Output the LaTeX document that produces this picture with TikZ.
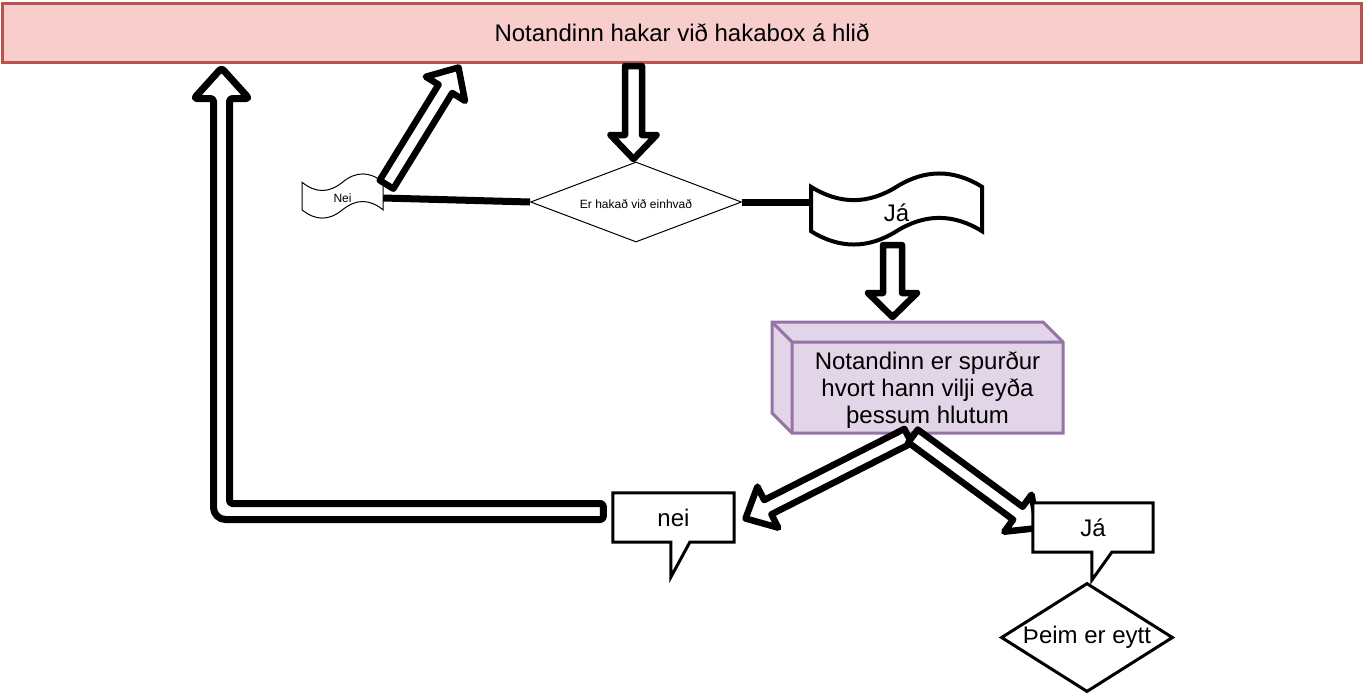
\documentclass[tikz,border=0pt]{standalone}
\usepackage{fontspec}
\setmainfont{Liberation Sans}
\usetikzlibrary{shapes.geometric,calc}
\definecolor{topfill}{HTML}{F8CECC}
\definecolor{topline}{HTML}{B85450}
\definecolor{cubefill}{HTML}{E1D5E7}
\definecolor{cubeline}{HTML}{9673A6}
\newcommand\hollowarrowdraw[5]{%
  \path (#1); \pgfgetlastxy{\hax}{\hay}%
  \path (#2); \pgfgetlastxy{\hbx}{\hby}%
  \pgfmathsetmacro\hang{atan2(\hby-\hay,\hbx-\hax)}%
  \pgfmathsetmacro\hlen{veclen(\hbx-\hax,\hby-\hay)}%
  \begin{scope}[shift={(\hax,\hay)},rotate=\hang]
    \draw[hollow] (0,#3) -- ({\hlen-#5},#3) -- ({\hlen-#5},#4) -- (\hlen,0) -- ({\hlen-#5},-#4) -- ({\hlen-#5},-#3) -- (0,-#3) -- cycle;
  \end{scope}}
\newcommand\tapepath[5]{%
  \pgfmathsetmacro\tdy{0.4*#5}%
  \draw[#1] ({#2},{#3+0.5*\tdy})
    .. controls ({#2+#4/6},{#3+1.1*\tdy}) and ({#2+#4/3},{#3+1.1*\tdy}) .. ({#2+#4/2},{#3+0.5*\tdy})
    .. controls ({#2+2*#4/3},{#3-0.1*\tdy}) and ({#2+5*#4/6},{#3-0.1*\tdy}) .. ({#2+#4},{#3+0.5*\tdy})
    -- ({#2+#4},{#3+#5-0.5*\tdy})
    .. controls ({#2+5*#4/6},{#3+#5-1.1*\tdy}) and ({#2+2*#4/3},{#3+#5-1.1*\tdy}) .. ({#2+#4/2},{#3+#5-0.5*\tdy})
    .. controls ({#2+#4/3},{#3+#5+0.1*\tdy}) and ({#2+#4/6},{#3+#5+0.1*\tdy}) .. ({#2},{#3+#5-0.5*\tdy})
    -- cycle;}
\tikzset{
  hollow/.style={draw=black,fill=white,line width=6.5pt,line join=round},
  bigfont/.style={font=\fontsize{24}{27}\selectfont},
  smallfont/.style={font=\fontsize{12}{14}\selectfont},
  topbox/.style={draw=topline,fill=topfill,line width=3pt,minimum width=1359pt,minimum height=59pt,inner sep=0pt,bigfont},
  thinbox/.style={draw=black,fill=white,line width=1pt},
  boldshape/.style={draw=black,fill=white,line width=4pt},
  label/.style={inner sep=0pt},
  thickline/.style={draw=black,line width=7pt},
  calloutline/.style={draw=black,line width=3pt,line join=miter},
  cube/.style={draw=cubeline,fill=cubefill,line width=3pt,line join=miter},
}
\begin{document}
\begin{tikzpicture}[x=1pt,y=-1pt]
\useasboundingbox (0,0) rectangle (1364,694);
\fill[white] (0,0) rectangle (1364,694);

% top box
\node[topbox] (top) at (682,32.5) {Notandinn hakar við hakabox á hlið};

% decision diamond
\node[diamond,shape aspect=2.64,draw=black,fill=white,line width=1pt,minimum width=211pt,minimum height=80pt,inner sep=0pt] (q1) at (636,202) {};
\node[label,smallfont] at (636,204) {Er hakað við einhvað};

% tapes
\tapepath{thinbox}{302}{173}{81}{46}
\node[label,smallfont,minimum width=81pt,minimum height=46pt] (neiT) at (342.5,198) {Nei};
\tapepath{boldshape}{811}{172}{171}{74}
\node[label,bigfont,minimum width=171pt,minimum height=74pt] (jaT) at (896.5,213) {Já};

% thick lines
\draw[thickline] (q1.west) -- (neiT.east);
\draw[thickline] (q1.east) -- (q1.east -| jaT.west);

% cube
\draw[cube] (772,322) -- (1043,322) -- (1063,342) -- (1063,433) -- (792,433) -- (772,413) -- cycle;
\draw[cube,fill=none] (772,322) -- (792,342) -- (1063,342) (792,342) -- (792,433);
\node[label,bigfont,align=center,minimum width=271pt,minimum height=91pt] (ask) at (927.5,390.5) {Notandinn er spurður\\hvort hann vilji eyða\\þessum hlutum};

% arrow end coordinates
\coordinate (a1s) at (633.5,66);
\coordinate (a1e) at (633.5,159);
\coordinate (a2s) at (386.5,184.5);
\coordinate (a2e) at (458.5,67.5);
\coordinate (a3s) at (892.5,245);
\coordinate (a3e) at (892.5,317);
\coordinate (a4s) at (908,436);
\coordinate (a4e) at (745.5,518.5);
\coordinate (a5s) at (913,436);
\coordinate (a5e) at (1038,528);

\hollowarrowdraw{a1s}{a1e}{8.5}{23}{24}
\hollowarrowdraw{a2s}{a2e}{8}{23}{25}
\hollowarrowdraw{a3s}{a3e}{9.5}{24.5}{24}
\hollowarrowdraw{a4s}{a4e}{8}{23}{25}
\hollowarrowdraw{a5s}{a5e}{8}{23}{25}

% callouts
\node[label,fill=white,bigfont,minimum width=121pt,minimum height=49pt] (neiC) at (673.5,517.5) {nei};
\draw[calloutline] (neiC.north west) -- (neiC.north east) -- (neiC.south east)
  -- ($(neiC.south west)+(77,0)$) -- ($(neiC.south west)+(58,35)$) -- ($(neiC.south west)+(58,0)$)
  -- (neiC.south west) -- cycle;
\node[label,fill=white,bigfont,minimum width=120pt,minimum height=49pt] (jaC) at (1093,527.5) {Já};
\draw[calloutline] (jaC.north west) -- (jaC.north east) -- (jaC.south east)
  -- ($(jaC.south west)+(79,0)$) -- ($(jaC.south west)+(59,28)$) -- ($(jaC.south west)+(59,0)$)
  -- (jaC.south west) -- cycle;

% final diamond
\node[diamond,shape aspect=1.58,draw=black,fill=white,line width=3pt,minimum width=172pt,minimum height=109pt,inner sep=0pt,bigfont] (del) at (1087,637.5) {Þeim er eytt};

% return arrow from nei to top
\coordinate (rS) at ($(neiC.west)+(-9.5,-14)$);
\coordinate (rE) at (top.south -| 221.5,0);
\draw[hollow,line width=7pt,rounded corners=3pt]
  (rS) -- (rS -| 229.5,0) -- (229.5,98.5) -- (249,98.5) -- ($(rE)+(0,4.5)$) -- (194,98.5) -- (213.5,98.5)
  [rounded corners=12pt] -- (213.5,519.5) [rounded corners=3pt] -- ($(rS)+(0,16)$) -- cycle;
\end{tikzpicture}
\end{document}
